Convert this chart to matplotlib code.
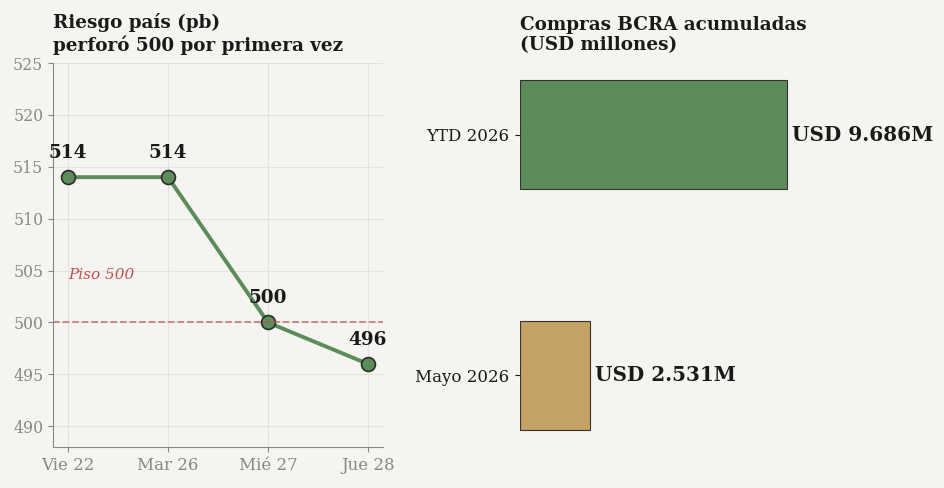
import matplotlib
matplotlib.use("Agg")
import matplotlib.pyplot as plt

plt.rcParams['font.family'] = ['DejaVu Serif']

# datos
dias = ['Vie 22', 'Mar 26', 'Mié 27', 'Jue 28']
riesgo = [514, 514, 500, 496]
piso = 500

categorias = ['YTD 2026', 'Mayo 2026']
compras = [9686, 2531]
etiquetas = ['USD 9.686M', 'USD 2.531M']

bg = '#f5f4f0'
verde = '#5b8c5a'
dorado = '#c4a265'
rojo = '#c0504d'
gris = '#888888'

fig = plt.figure(figsize=(9.45, 4.88), dpi=100, facecolor=bg)

# --- riesgo pais
ax = fig.add_axes([53 / 945, 41 / 488, 330 / 945, 384 / 488], facecolor=bg)
x = list(range(len(dias)))
ax.plot(x, riesgo, color=verde, lw=2.8, marker='o', markersize=10,
        markerfacecolor=verde, markeredgecolor='#2b2b2b', markeredgewidth=1.2)
ax.axhline(piso, color=rojo, ls='--', lw=1.3, alpha=0.7)
ax.text(0, 504.2, 'Piso 500', color=rojo, fontsize=11, style='italic')
for xi, v in zip(x, riesgo):
    ax.annotate(str(v), (xi, v), xytext=(0, 11), textcoords='offset points',
                ha='center', va='bottom', fontsize=13.3, fontweight='bold', color='#1a1a1a')
ax.set_xticks(x)
ax.set_xticklabels(dias)
ax.set_xlim(-0.15, 3.15)
ax.set_ylim(488, 525)
ax.set_yticks(range(490, 526, 5))
ax.grid(True, color='#e3e2de', lw=0.8)
ax.set_axisbelow(True)
for s in ['top', 'right']:
    ax.spines[s].set_visible(False)
for s in ['left', 'bottom']:
    ax.spines[s].set_color(gris)
ax.tick_params(colors=gris, labelsize=11.3)
ax.tick_params(axis='x', labelsize=12)
ax.set_title('Riesgo país (pb)\nperforó 500 por primera vez', loc='left',
             fontsize=13.2, fontweight='bold', color='#1a1a1a', pad=9)

# --- compras BCRA
ax2 = fig.add_axes([520 / 945, 41 / 488, 360 / 945, 384 / 488], facecolor=bg)
bars = ax2.barh(categorias, compras, height=0.45, color=[verde, dorado],
                edgecolor='#333333', linewidth=0.8)
ax2.invert_yaxis()
ax2.set_xlim(0, max(compras) * 1.35)
for b, lab in zip(bars, etiquetas):
    ax2.annotate(lab, (b.get_width(), b.get_y() + b.get_height() / 2),
                 xytext=(4, 0), textcoords='offset points', ha='left', va='center',
                 fontsize=14.4, fontweight='bold', color='#1a1a1a')
for s in ax2.spines.values():
    s.set_visible(False)
ax2.set_xticks([])
ax2.tick_params(axis='y', labelsize=12, colors='#1a1a1a', pad=4.5)
ax2.set_title('Compras BCRA acumuladas\n(USD millones)', loc='left',
              fontsize=13.2, fontweight='bold', color='#1a1a1a', pad=9)

fig.savefig('out.png', dpi=100, facecolor=bg)
